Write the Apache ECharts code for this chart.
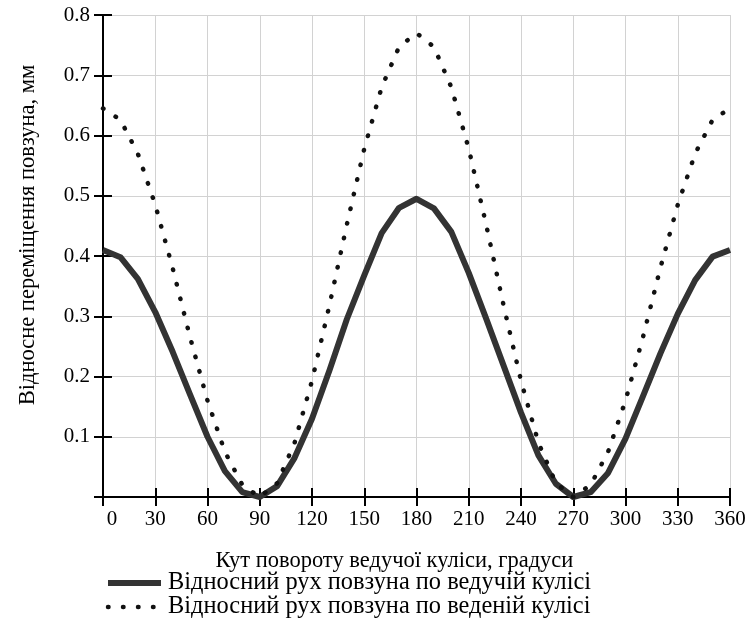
<!DOCTYPE html>
<html lang="uk">
<head>
    <meta charset="UTF-8">
    <title>Відносне переміщення повзуна</title>
    <script src="https://cdn.jsdelivr.net/npm/echarts@6/dist/echarts.min.js"></script>
    <style>
        body { margin: 0; background: #fff; }
        #chart { width: 753px; height: 627px; }
    </style>
</head>
<body>
    <div id="chart"></div>
    <script>
        // кут повороту, градуси
        const angles = [0, 10, 20, 30, 40, 50, 60, 70, 80, 90, 100, 110, 120, 130, 140, 150, 160, 170, 180,
            190, 200, 210, 220, 230, 240, 250, 260, 270, 280, 290, 300, 310, 320, 330, 340, 350, 360];
        // по ведучій кулісі
        const leading = [0.410, 0.398, 0.362, 0.307, 0.241, 0.170, 0.100, 0.043, 0.008, 0.000,
            0.018, 0.065, 0.130, 0.210, 0.295, 0.368, 0.438, 0.480, 0.495,
            0.479, 0.440, 0.372, 0.296, 0.218, 0.140, 0.069, 0.022, 0.000,
            0.008, 0.040, 0.097, 0.167, 0.238, 0.304, 0.360, 0.399, 0.410];
        // по веденій кулісі
        const driven = [0.645, 0.626, 0.570, 0.485, 0.380, 0.265, 0.160, 0.075, 0.020, 0.000,
            0.023, 0.090, 0.193, 0.318, 0.452, 0.578, 0.680, 0.747, 0.770,
            0.747, 0.680, 0.578, 0.452, 0.318, 0.193, 0.090, 0.023, 0.000,
            0.020, 0.075, 0.160, 0.265, 0.380, 0.485, 0.570, 0.626, 0.645];
        const names = ['Відносний рух повзуна по ведучій кулісі', 'Відносний рух повзуна по веденій кулісі'];

        const font = 'Liberation Serif';
        const pair = arr => angles.map((a, i) => [a, arr[i]]);

        const solidStyle = { color: '#333', width: 6, join: 'round' };
        const dotStyle = { color: '#111', width: 4.5, type: [0.5, 14.5], cap: 'round' };

        const chart = echarts.init(document.getElementById('chart'));
        chart.setOption({
            animation: false,
            textStyle: { fontFamily: font, color: '#000' },
            grid: { left: 103, right: 23, top: 15, bottom: 130 },
            legend: {
                orient: 'vertical',
                left: 100,
                top: 566,
                itemWidth: 53,
                itemHeight: 14,
                itemGap: 0,
                itemStyle: { opacity: 0 },
                textStyle: { fontFamily: font, fontSize: 24.4, color: '#000', padding: [0, 0, 0, 2] },
                data: [
                    { name: names[0], lineStyle: solidStyle },
                    { name: names[1], lineStyle: dotStyle }
                ]
            },
            xAxis: [{
                type: 'value', min: 0, max: 360, interval: 30,
                name: 'Кут повороту ведучої куліси, градуси',
                nameLocation: 'middle', nameGap: 53,
                nameTextStyle: { fontFamily: font, fontSize: 22.5, color: '#000', padding: [0, 44, 0, 0] },
                axisLine: { lineStyle: { color: '#000', width: 2 } },
                axisTick: { length: 9, lineStyle: { color: '#000', width: 2 } },
                axisLabel: {
                    fontFamily: font, fontSize: 21, color: '#000', margin: 12,
                    formatter: v => v === 0 ? '{z|0}' : String(v),
                    rich: { z: { fontFamily: font, fontSize: 21, color: '#000', padding: [0, 0, 0, 18] } }
                },
                splitLine: { show: true, lineStyle: { color: '#d2d2d2', width: 1 } }
            }, {
                type: 'value', min: 0, max: 360, interval: 30, position: 'bottom',
                axisLine: { show: false },
                axisTick: { inside: true, length: 9, lineStyle: { color: '#000', width: 2 } },
                axisLabel: { show: false },
                splitLine: { show: false }
            }],
            yAxis: [{
                type: 'value', min: 0, max: 0.8, interval: 0.1,
                name: 'Відносне переміщення повзуна, мм',
                nameLocation: 'middle', nameGap: 63,
                nameTextStyle: { fontFamily: font, fontSize: 22.5, color: '#000', padding: [0, 0, 0, 42] },
                axisLine: { show: true, lineStyle: { color: '#000', width: 2 } },
                axisTick: { show: true, length: 9, lineStyle: { color: '#000', width: 2 } },
                axisLabel: {
                    fontFamily: font, fontSize: 21, color: '#000', margin: 13,
                    formatter: v => v === 0 ? '' : v.toFixed(1)
                },
                splitLine: { show: true, lineStyle: { color: '#d2d2d2', width: 1 } }
            }, {
                type: 'value', min: 0, max: 0.8, interval: 0.1, position: 'left',
                axisLine: { show: false },
                axisTick: { show: true, inside: true, length: 9, lineStyle: { color: '#000', width: 2 } },
                axisLabel: { show: false },
                splitLine: { show: false }
            }],
            series: [{
                name: names[0],
                type: 'line',
                data: pair(leading),
                symbol: 'none',
                lineStyle: solidStyle,
                itemStyle: { color: '#333' },
                z: 3
            }, {
                name: names[1],
                type: 'line',
                data: pair(driven),
                symbol: 'none',
                lineStyle: dotStyle,
                itemStyle: { color: '#111' },
                z: 4
            }]
        });
    </script>
</body>
</html>
